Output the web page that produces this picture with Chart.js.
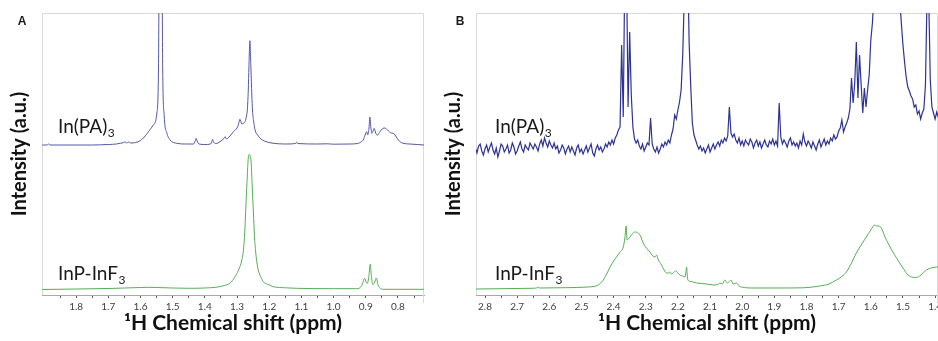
<!DOCTYPE html>
<html>
<head>
<meta charset="utf-8">
<script src="https://cdn.jsdelivr.net/npm/chart.js@4.4.1/dist/chart.umd.min.js"></script>
<style>
  html, body { margin: 0; padding: 0; background: #fff; overflow: hidden; }
  body { width: 938px; height: 341px; position: relative; }
  .panel { position: absolute; top: 0; height: 341px; }
  #panelA { left: 0; width: 434px; }
  #panelB { left: 434px; width: 560px; }
</style>
</head>
<body>
<div class="panel" id="panelA"><canvas id="chartA"></canvas></div>
<div class="panel" id="panelB"><canvas id="chartB"></canvas></div>
<script>
// Données (intensité en unités arbitraires, spectres décalés)
const sampleNames = ['In(PA)', 'InP-InF'];
const sampleSub = '3';
const axisTitleX = '¹H Chemical shift (ppm)';
const axisTitleY = 'Intensity (a.u.)';

// Panneau A
const ppmBlueA = [1.905, 1.890, 1.886, 1.882, 1.800, 1.750, 1.700, 1.675, 1.663, 1.652,
  1.648, 1.643, 1.638, 1.630, 1.615, 1.600, 1.588, 1.575, 1.560, 1.549,
  1.544, 1.540, 1.535, 1.531, 1.526, 1.518, 1.508, 1.487, 1.460, 1.435,
  1.430, 1.427, 1.424, 1.418, 1.400, 1.382, 1.378, 1.376, 1.373, 1.365,
  1.353, 1.341, 1.337, 1.333, 1.322, 1.311, 1.300, 1.296, 1.291, 1.285,
  1.279, 1.275, 1.270, 1.268, 1.265, 1.263, 1.260, 1.257, 1.254, 1.252,
  1.248, 1.244, 1.236, 1.229, 1.215, 1.198, 1.146, 1.118, 1.115, 1.112,
  1.050, 1.020, 1.000, 0.950, 0.925, 0.915, 0.908, 0.902, 0.897, 0.894,
  0.890, 0.887, 0.884, 0.881, 0.877, 0.874, 0.870, 0.868, 0.863, 0.858,
  0.852, 0.846, 0.840, 0.835, 0.829, 0.823, 0.815, 0.811, 0.809, 0.805,
  0.799, 0.792, 0.784, 0.763, 0.740, 0.719];
const blueA = [150, 150, 151, 150, 150, 150, 150.5, 151, 151.7, 152.5,
  153.3, 152, 153, 152, 152.5, 154.5, 158, 163.3, 170, 182,
  228, 420, 420, 228, 178, 162, 155, 151.7, 151, 151,
  154, 156.7, 154, 151, 150.5, 151, 154, 155.7, 153, 151.5,
  153.3, 156.5, 158.3, 156, 159, 163.3, 167, 170, 175.7, 171,
  172, 173.3, 180, 185, 205, 228.3, 254.3, 228, 200, 185,
  173, 165, 160, 157, 154, 152.3, 151, 151.5, 153, 151.5,
  151, 151.2, 150.8, 151, 151.5, 153, 155, 160, 163.3, 160,
  167, 178, 167, 161.7, 164, 166.7, 163, 161, 160, 162.3,
  165, 166.7, 167, 165.7, 164, 162.3, 161.7, 161, 160, 158,
  155, 153, 151.7, 151, 150.5, 150];

const ppmGreenA = [1.905, 1.800, 1.700, 1.650, 1.600, 1.580, 1.550, 1.500, 1.450, 1.400,
  1.360, 1.340, 1.322, 1.306, 1.291, 1.285, 1.280, 1.276, 1.272, 1.268,
  1.265, 1.262, 1.259, 1.256, 1.253, 1.249, 1.246, 1.242, 1.238, 1.234,
  1.226, 1.218, 1.200, 1.187, 1.150, 1.115, 1.000, 0.928, 0.913, 0.903,
  0.899, 0.895, 0.891, 0.886, 0.882, 0.878, 0.872, 0.867, 0.862, 0.856,
  0.846, 0.800, 0.719];
const greenA = [5.5, 6, 6.5, 7, 7.5, 7.7, 7.5, 7, 6.7, 7,
  8, 9.5, 11.7, 18.3, 28.3, 35, 45, 63, 92, 120,
  137, 140.5, 139.5, 132, 110, 82, 60, 43, 32, 25,
  18, 13.3, 10, 8.3, 7.2, 6.7, 6.3, 6.3, 9, 16.7,
  13, 11.7, 17, 30.7, 17, 10.5, 13, 17, 10, 7,
  5.7, 5.7, 5.7];

// Panneau B
const ppmBlueB = [2.830, 2.825, 2.820, 2.815, 2.810, 2.805, 2.800, 2.795, 2.790, 2.785,
  2.780, 2.775, 2.770, 2.765, 2.760, 2.755, 2.750, 2.745, 2.740, 2.735,
  2.730, 2.725, 2.720, 2.715, 2.710, 2.705, 2.700, 2.695, 2.690, 2.685,
  2.680, 2.675, 2.670, 2.665, 2.660, 2.655, 2.650, 2.645, 2.640, 2.635,
  2.630, 2.625, 2.620, 2.615, 2.610, 2.605, 2.600, 2.595, 2.590, 2.585,
  2.580, 2.575, 2.570, 2.565, 2.560, 2.555, 2.550, 2.545, 2.540, 2.535,
  2.530, 2.525, 2.520, 2.515, 2.510, 2.505, 2.500, 2.495, 2.490, 2.485,
  2.480, 2.475, 2.470, 2.465, 2.460, 2.455, 2.450, 2.445, 2.440, 2.435,
  2.430, 2.425, 2.420, 2.415, 2.410, 2.405, 2.400, 2.395, 2.390, 2.385,
  2.380, 2.375, 2.370, 2.365, 2.360, 2.355, 2.350, 2.345, 2.340, 2.335,
  2.330, 2.325, 2.320, 2.315, 2.310, 2.305, 2.300, 2.295, 2.290, 2.285,
  2.280, 2.275, 2.270, 2.265, 2.260, 2.255, 2.250, 2.245, 2.240, 2.235,
  2.230, 2.225, 2.220, 2.215, 2.210, 2.205, 2.200, 2.195, 2.190, 2.185,
  2.180, 2.175, 2.170, 2.165, 2.160, 2.155, 2.150, 2.145, 2.140, 2.135,
  2.130, 2.125, 2.120, 2.115, 2.110, 2.105, 2.100, 2.095, 2.090, 2.085,
  2.080, 2.075, 2.070, 2.065, 2.060, 2.055, 2.050, 2.045, 2.040, 2.035,
  2.030, 2.025, 2.020, 2.015, 2.010, 2.005, 2.000, 1.995, 1.990, 1.985,
  1.980, 1.975, 1.970, 1.965, 1.960, 1.955, 1.950, 1.945, 1.940, 1.935,
  1.930, 1.925, 1.920, 1.915, 1.910, 1.905, 1.900, 1.895, 1.890, 1.885,
  1.880, 1.875, 1.870, 1.865, 1.860, 1.855, 1.850, 1.845, 1.840, 1.835,
  1.830, 1.825, 1.820, 1.815, 1.810, 1.805, 1.800, 1.795, 1.790, 1.785,
  1.780, 1.775, 1.770, 1.765, 1.760, 1.755, 1.750, 1.745, 1.740, 1.735,
  1.730, 1.725, 1.720, 1.715, 1.710, 1.705, 1.700, 1.695, 1.690, 1.685,
  1.680, 1.675, 1.670, 1.665, 1.660, 1.655, 1.650, 1.645, 1.640, 1.635,
  1.630, 1.625, 1.620, 1.615, 1.610, 1.605, 1.600, 1.595, 1.590, 1.585,
  1.580, 1.575, 1.570, 1.565, 1.560, 1.555, 1.550, 1.545, 1.540, 1.535,
  1.530, 1.525, 1.520, 1.515, 1.510, 1.505, 1.500, 1.495, 1.490, 1.485,
  1.480, 1.475, 1.470, 1.465, 1.460, 1.455, 1.450, 1.445, 1.440, 1.435,
  1.430, 1.425, 1.420, 1.415, 1.410, 1.405, 1.400, 1.395, 1.390, 1.385];
const blueB = [147, 142, 149, 151, 144, 140, 146, 150, 143, 148,
  152, 145, 141, 147, 138, 144, 151, 149, 143, 146,
  150, 142, 145, 152, 148, 141, 144, 149, 153, 146,
  143, 150, 147, 145, 152, 149, 146, 151, 148, 144,
  151, 155, 149, 157, 152, 148, 154, 150, 147, 152,
  146, 149, 142, 145, 150, 147, 141, 146, 149, 143,
  148, 144, 140, 147, 150, 143, 146, 141, 145, 149,
  143, 147, 151, 142, 139, 146, 150, 145, 148, 143,
  146, 151, 148, 153, 150, 155, 151, 157, 160, 165,
  168, 250, 178, 330, 330, 188, 263, 200, 168, 156,
  152, 155, 149, 146, 151, 144, 148, 152, 150, 177,
  151, 146, 143, 148, 142, 146, 151, 148, 153, 150,
  155, 152, 160, 166, 180, 176, 185, 193, 205, 240,
  300, 340, 340, 252, 208, 172, 160, 155, 150, 146,
  149, 144, 147, 142, 146, 150, 143, 147, 151, 146,
  150, 153, 149, 155, 152, 157, 154, 159, 188, 162,
  158, 161, 155, 152, 157, 150, 154, 149, 155, 152,
  150, 156, 153, 147, 152, 155, 149, 153, 147, 151,
  155, 150, 148, 154, 151, 156, 150, 154, 149, 192,
  158, 151, 155, 152, 148, 154, 157, 150, 153, 149,
  152, 147, 154, 150, 161, 153, 149, 154, 151, 147,
  153, 149, 145, 151, 155, 148, 152, 156, 150, 154,
  151, 157, 154, 160, 156, 158, 164, 167, 175, 163,
  168, 172, 177, 186, 217, 192, 212, 253, 197, 240,
  210, 182, 207, 188, 205, 220, 255, 272, 300, 340,
  370, 400, 420, 420, 420, 420, 420, 420, 420, 410,
  400, 380, 350, 320, 295, 272, 250, 233, 218, 208,
  204, 199, 196, 188, 190, 181, 184, 176, 182, 186,
  210, 300, 300, 215, 188, 182, 176, 183, 178, 174];

const ppmGreenB = [2.830, 2.750, 2.660, 2.640, 2.635, 2.630, 2.550, 2.480, 2.455, 2.448,
  2.440, 2.432, 2.420, 2.411, 2.400, 2.391, 2.380, 2.370, 2.365, 2.361,
  2.358, 2.354, 2.349, 2.342, 2.334, 2.323, 2.315, 2.308, 2.298, 2.287,
  2.278, 2.271, 2.266, 2.262, 2.251, 2.243, 2.235, 2.229, 2.225, 2.220,
  2.215, 2.207, 2.200, 2.194, 2.185, 2.178, 2.175, 2.173, 2.171, 2.169,
  2.160, 2.142, 2.110, 2.090, 2.075, 2.070, 2.062, 2.054, 2.047, 2.040,
  2.035, 2.028, 2.018, 2.010, 2.002, 1.966, 1.900, 1.810, 1.759, 1.730,
  1.707, 1.690, 1.676, 1.660, 1.645, 1.630, 1.614, 1.600, 1.588, 1.582,
  1.575, 1.567, 1.556, 1.545, 1.535, 1.518, 1.500, 1.487, 1.474, 1.460,
  1.448, 1.437, 1.427, 1.412, 1.395, 1.385];
const greenB = [6, 6.3, 6.7, 7, 8, 7, 7.3, 8, 9, 10,
  12, 15, 22, 28, 34, 38, 43, 48, 57, 69,
  55, 56, 58, 61, 63, 62, 58, 52, 47, 43,
  39, 38, 40, 36, 30, 25, 22, 22, 23, 21,
  22, 24, 22, 20, 19, 18, 23, 28, 20, 15,
  13.5, 12, 11, 10, 10.5, 12, 11, 15, 12, 13.5,
  15, 11, 12, 9, 8, 7, 7, 7.2, 9, 11,
  15, 18.5, 23, 32, 42, 50, 58, 65, 70, 69,
  69, 67, 58, 51, 45, 36, 27, 21, 18, 17.5,
  19, 22, 25, 27, 28, 28];

const blueLight = '#5656a8';
const blueDark = '#2f338f';
const green = '#55ad55';

function buildPoints(ppm, values) {
    return ppm.map((p, i) => ({ x: p, y: values[i] }));
}

// Cadre gris, étiquettes des échantillons et lettre du panneau
const panelDecor = {
    id: 'panelDecor',
    beforeDatasetsDraw(chart) {
        const { ctx, chartArea: a } = chart;
        ctx.save();
        ctx.strokeStyle = '#dadada';
        ctx.lineWidth = 1;
        ctx.beginPath();
        ctx.moveTo(a.left + 0.5, a.bottom);
        ctx.lineTo(a.left + 0.5, a.top + 0.5);
        ctx.lineTo(a.right - 0.5, a.top + 0.5);
        ctx.lineTo(a.right - 0.5, a.bottom + 8);
        ctx.stroke();
        ctx.restore();
    },
    afterDraw(chart, args, opts) {
        const { ctx, chartArea: a } = chart;
        ctx.save();
        ctx.fillStyle = '#1a1a1a';
        ctx.textBaseline = 'alphabetic';
        ctx.textAlign = 'left';
        [[sampleNames[0], 133], [sampleNames[1], 280]].forEach(([name, base]) => {
            const x = a.left + opts.labelDx;
            ctx.font = '19px Lato';
            ctx.fillText(name, x, base);
            const w = ctx.measureText(name).width;
            ctx.font = '12px Lato';
            ctx.fillText(sampleSub, x + w + 0.5, base + 4);
        });
        ctx.font = 'bold 12px "Liberation Sans"';
        ctx.textAlign = 'center';
        ctx.textBaseline = 'middle';
        ctx.fillText(opts.letter, opts.letterX, 22);
        ctx.restore();
    }
};

function spectrumChart(id, cfg) {
    return new Chart(document.getElementById(id), {
        type: 'line',
        data: {
            datasets: [{
                data: buildPoints(cfg.ppmTop, cfg.top),
                borderColor: cfg.topColor,
                borderWidth: cfg.topWidth,
                pointRadius: 0,
                cubicInterpolationMode: cfg.topSmooth ? 'monotone' : 'default',
                clip: 0
            }, {
                data: buildPoints(cfg.ppmBottom, cfg.bottom),
                borderColor: green,
                borderWidth: 1,
                pointRadius: 0,
                cubicInterpolationMode: 'monotone',
                clip: 0
            }]
        },
        options: {
            animation: false,
            responsive: true,
            maintainAspectRatio: false,
            events: [],
            layout: { padding: { top: 13, right: cfg.padRight, left: 0, bottom: 0 } },
            plugins: {
                legend: { display: false },
                tooltip: { enabled: false },
                panelDecor: { letter: cfg.letter, letterX: cfg.letterX, labelDx: cfg.labelDx }
            },
            scales: {
                x: {
                    type: 'linear',
                    reverse: true,
                    min: cfg.min,
                    max: cfg.max,
                    afterFit: s => { s.height = 46; },
                    border: { color: '#a8a8a8' },
                    grid: { drawOnChartArea: false, tickLength: 3, color: '#555' },
                    ticks: {
                        stepSize: 0.05,
                        autoSkip: false,
                        includeBounds: false,
                        maxRotation: 0,
                        padding: 3,
                        color: '#404040',
                        font: { family: 'Lato', size: 10 },
                        callback: v => {
                            if (v > cfg.lastTick + 0.001) return null;
                            return Math.round(v * 100) % 10 === 0 ? v.toFixed(1) : '';
                        }
                    },
                    title: {
                        display: true,
                        text: axisTitleX,
                        color: '#111',
                        font: { family: 'Lato', size: 21, weight: 'bold' },
                        padding: { top: 0, bottom: 5 }
                    }
                },
                y: {
                    min: 0,
                    max: 282,
                    afterFit: s => { s.width = 42; },
                    border: { display: false },
                    grid: { display: false },
                    ticks: { display: false },
                    title: {
                        display: true,
                        text: axisTitleY,
                        color: '#111',
                        font: { family: 'Lato', size: 20, weight: 'bold' },
                        padding: { top: 8, bottom: 0 }
                    }
                }
            }
        },
        plugins: [panelDecor]
    });
}

spectrumChart('chartA', {
    ppmTop: ppmBlueA, top: blueA, topColor: blueLight, topWidth: 1, topSmooth: true,
    ppmBottom: ppmGreenA, bottom: greenA,
    min: 0.719, max: 1.906, lastTick: 1.85, padRight: 10,
    letter: 'A', letterX: 22, labelDx: 16
});

spectrumChart('chartB', {
    ppmTop: ppmBlueB, top: blueB, topColor: blueDark, topWidth: 1.2, topSmooth: false,
    ppmBottom: ppmGreenB, bottom: greenB,
    min: 1.391, max: 2.828, lastTick: 2.8, padRight: 56,
    letter: 'B', letterX: 26, labelDx: 19
});
</script>
</body>
</html>
